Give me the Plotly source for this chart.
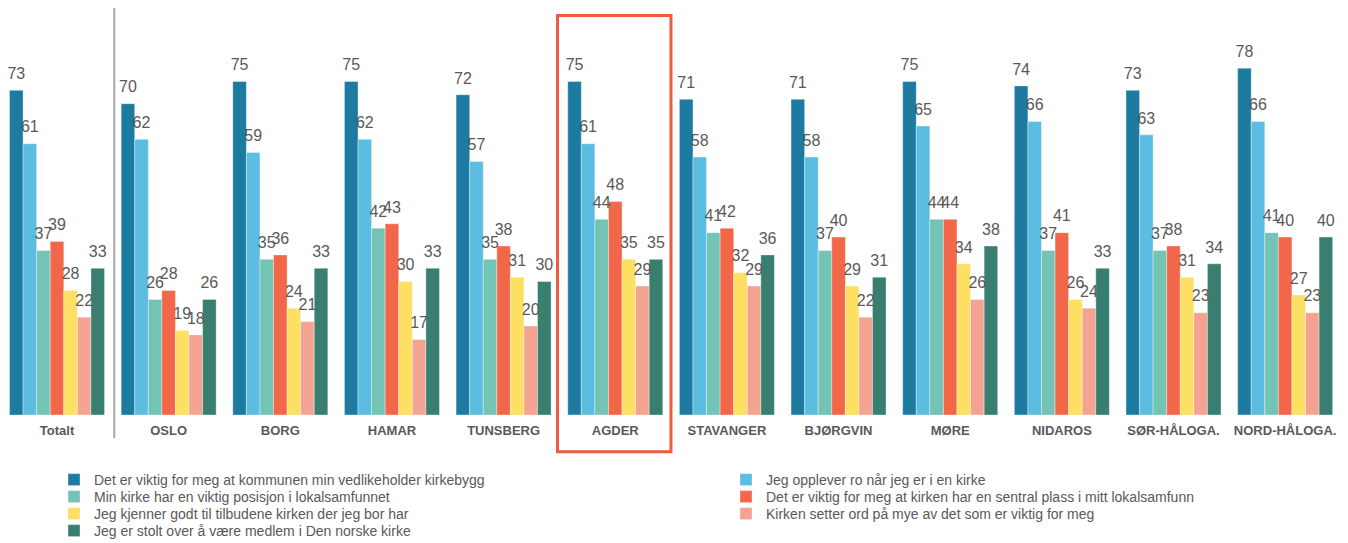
import plotly.graph_objects as go

regions = ["Totalt", "OSLO", "BORG", "HAMAR", "TUNSBERG", "AGDER", "STAVANGER",
           "BJØRGVIN", "MØRE", "NIDAROS", "SØR-HÅLOGA.", "NORD-HÅLOGA."]

series_names = [
    "Det er viktig for meg at kommunen min vedlikeholder kirkebygg",
    "Jeg opplever ro når jeg er i en kirke",
    "Min kirke har en viktig posisjon i lokalsamfunnet",
    "Det er viktig for meg at kirken har en sentral plass i mitt lokalsamfunn",
    "Jeg kjenner godt til tilbudene kirken der jeg bor har",
    "Kirken setter ord på mye av det som er viktig for meg",
    "Jeg er stolt over å være medlem i Den norske kirke",
]

vedlikehold = [73, 70, 75, 75, 72, 75, 71, 71, 75, 74, 73, 78]
ro_i_kirka = [61, 62, 59, 62, 57, 61, 58, 58, 65, 66, 63, 66]
posisjon = [37, 26, 35, 42, 35, 44, 41, 37, 44, 37, 37, 41]
sentral_plass = [39, 28, 36, 43, 38, 48, 42, 40, 44, 41, 38, 40]
kjenner_tilbud = [28, 19, 24, 30, 31, 35, 32, 29, 34, 26, 31, 27]
setter_ord = [22, 18, 21, 17, 20, 29, 29, 22, 26, 24, 23, 23]
stolt = [33, 26, 33, 33, 30, 35, 36, 31, 38, 33, 34, 40]

values = [vedlikehold, ro_i_kirka, posisjon, sentral_plass, kjenner_tilbud, setter_ord, stolt]
colors = ["#1D7BA1", "#5CBCE2", "#73C4B4", "#F2674A", "#FDDF63", "#F4A291", "#387F70"]

W, H = 1340, 535   # page adds an 8px body margin

fig = go.Figure()
for i, (name, vals, col) in enumerate(zip(series_names, values, colors)):
    fig.add_trace(go.Bar(
        x=regions, y=vals, name=name,
        marker=dict(color=col, line=dict(color="rgba(255,255,255,0.6)", width=0.6)),
        legend="legend" if i == 0 else f"legend{i + 1}",
    ))

# value labels as grouped scatter text, lifted a bit above the bars
for vals in values:
    fig.add_trace(go.Scatter(
        x=regions, y=vals, mode="markers+text", text=vals, textposition="top center",
        marker=dict(size=10, color="rgba(0,0,0,0)"),
        textfont=dict(size=16, color="#595959"),
        cliponaxis=False, showlegend=False, hoverinfo="skip",
    ))

# divider between Totalt and the dioceses
fig.add_shape(type="line", xref="x", yref="paper", x0=0.513, x1=0.513, y0=-0.061, y1=1.077,
              line=dict(color="#A6A6A6", width=2))
# highlight box around AGDER
fig.add_shape(type="rect", xref="x", yref="paper", x0=4.483, x1=5.499, y0=-0.097, y1=1.057,
              line=dict(color="#EE5B40", width=3))

# one legend per entry: two columns, odd series left, even series right
legend_pos = [(46, 472), (718, 472), (46, 489), (718, 489), (46, 506), (718, 506), (46, 523)]
legends = {}
for i, (lx, ly) in enumerate(legend_pos):
    key = "legend" if i == 0 else f"legend{i + 1}"
    legends[key] = dict(orientation="h", xref="container", yref="container",
                        x=lx / W, y=1 - ly / H, xanchor="left", yanchor="middle",
                        font=dict(size=14, color="#595959"), bgcolor="rgba(0,0,0,0)",
                        itemwidth=30)

fig.update_layout(
    width=W, height=H,
    margin=dict(l=0, r=0, t=29, b=128),
    plot_bgcolor="white", paper_bgcolor="white",
    font=dict(family="Liberation Sans, Arial, sans-serif", color="#595959"),
    barmode="group", bargap=0.149, bargroupgap=0,
    scattermode="group", scattergap=0.149,
    xaxis=dict(showgrid=False, showline=False, ticks="", range=[-0.439, 11.563],
               ticklabelstandoff=6,
               tickfont=dict(size=13, color="#595959", weight="bold")),
    yaxis=dict(visible=False, range=[0, 85]),
    showlegend=True,
    **legends,
)

fig.write_html("out.html")
